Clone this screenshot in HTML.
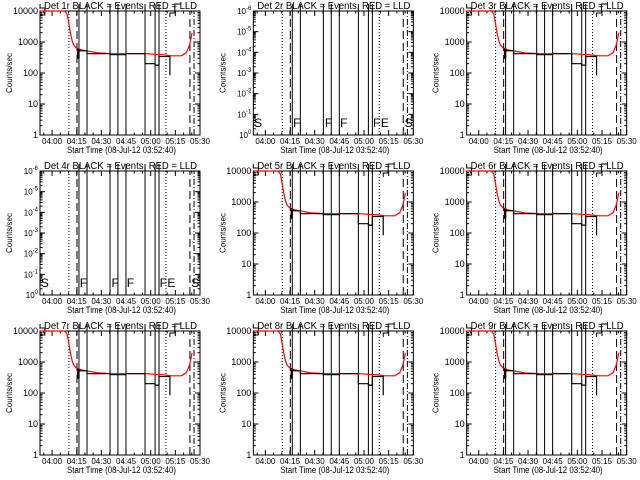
<!DOCTYPE html>
<html><head><meta charset="utf-8"><style>
html,body{margin:0;padding:0;background:#fff;width:640px;height:480px;overflow:hidden}
svg{display:block}
text{font-family:"Liberation Sans",sans-serif;fill:#000}
</style></head><body>
<svg id="c" width="640" height="480" viewBox="0 0 640 480"></svg>
<script>
// ---- data ----
const panelTitles = ["Det 1r BLACK = Events, RED = LLD","Det 2r BLACK = Events, RED = LLD","Det 3r BLACK = Events, RED = LLD",
 "Det 4r BLACK = Events, RED = LLD","Det 5r BLACK = Events, RED = LLD","Det 6r BLACK = Events, RED = LLD",
 "Det 7r BLACK = Events, RED = LLD","Det 8r BLACK = Events, RED = LLD","Det 9r BLACK = Events, RED = LLD"];
const hasData = [true,false,true,false,true,true,true,true,true];
const xTickLabels = ["04:00","04:15","04:30","04:45","05:00","05:15","05:30"];
const xTickMinutes = [7.33,22.33,37.33,52.33,67.33,82.33,97.33];
const yTickLabels = ["1","10","100","1000","10000"];
const yTickValues = [1,10,100,1000,10000];
const redTimes  = [0,15,16.5,17.5,18.5,19.5,20.5,22,25,30,35,45,55,65,70,75,80,86,89,91,92.5];
const redValues = [10000,10000,8000,4000,2000,1100,800,650,560,500,450,420,420,420,400,390,360,360,450,800,2000];
const blackTimes  = [22.5,23,23.7,24.2,28.6,42.6,52.3,63.9,70,72.4,79];
const blackValues = [600,300,550,520,420,390,420,200,180,340,340];
const solidLines = [23.7,28.6,42.6,47.4,52.3,63.9,70,72.4];
const dottedLines = [17.6,76.6];
const dashedLines = [22.5,91.2];
const dashDotLines = [93.7];
const markerLetters = ["S","F","F","F","F","E","S"];
const markerTimes = [0.5,24.2,43.5,52.8,72.8,77.5,92];

const svg = document.getElementById('c');
const NS = 'http://www.w3.org/2000/svg';
function mk(tag, attrs, parent){const e=document.createElementNS(NS,tag);for(const k in attrs)e.setAttribute(k,attrs[k]);parent.appendChild(e);return e;}
const L=40,R=200,T=11,B=135,XMAX=97.33;
const xs = t => L + t/XMAX*(R-L);

for(let p=0;p<9;p++){
  const col=p%3,row=Math.floor(p/3);
  const g=mk('g',{transform:`translate(${(col*213.33).toFixed(2)},${row*160})`},svg);
  
  
  const lo = hasData[p]?0:-6, hi = hasData[p]?4:0;
  const ys = v => B - (Math.log10(v)-lo)/(hi-lo)*(B-T);
  const fr=mk('rect',{x:L,y:T,width:R-L,height:B-T,fill:'none',stroke:'#000','stroke-width':1},g);
  
  
  const tt=mk('text',{x:44,y:9,'font-size':10,textLength:153,lengthAdjust:'spacingAndGlyphs'},g);tt.textContent=panelTitles[p];
  
  
  const yl=mk('text',{x:0,y:0,'font-size':8,'text-anchor':'middle',transform:'translate(12,73) rotate(-90)'},g);yl.textContent='Counts/sec';
  
  
  const xl=mk('text',{x:67,y:153,'font-size':9,textLength:109,lengthAdjust:'spacingAndGlyphs'},g);xl.textContent='Start Time (08-Jul-12 03:52:40)';
  
  
  xTickMinutes.forEach((m,i)=>{
    const x=xs(m);
    mk('line',{x1:x,y1:B,x2:x,y2:B-5,stroke:'#000'},g);mk('line',{x1:x,y1:T,x2:x,y2:T+5,stroke:'#000'},g);
    const t=mk('text',{x:x,y:144,'font-size':8,'text-anchor':'middle'},g);t.textContent=xTickLabels[i];
    
    
    for(let k=1;k<3;k++){const xm=xs(m-k*5);if(xm>L){mk('line',{x1:xm,y1:B,x2:xm,y2:B-2.5,stroke:'#000'},g);mk('line',{x1:xm,y1:T,x2:xm,y2:T+2.5,stroke:'#000'},g);}}
  });
  for(let d=lo;d<=hi;d++){
    const y=ys(Math.pow(10,d));
    mk('line',{x1:L,y1:y,x2:L+5,y2:y,stroke:'#000'},g);mk('line',{x1:R,y1:y,x2:R-5,y2:y,stroke:'#000'},g);
    if(hasData[p]){
      const t=mk('text',{x:L-2,y:y+3,'font-size':9,'text-anchor':'end'},g);t.textContent=yTickLabels[d];
      
      
    } else {
      const t=mk('text',{x:L-2,y:y+3,'font-size':8,'text-anchor':'end'},g);
      
      
      const e=lo-d;
      const a=document.createElementNS(NS,'tspan');a.textContent='10';t.appendChild(a);
      const b=document.createElementNS(NS,'tspan');b.setAttribute('dy','-4');b.setAttribute('font-size','6');b.textContent=e===0?'0':String(e);t.appendChild(b);
    }
    if(d<hi)for(let k=2;k<10;k++){const ym=ys(k*Math.pow(10,d));mk('line',{x1:L,y1:ym,x2:L+2.5,y2:ym,stroke:'#000'},g);mk('line',{x1:R,y1:ym,x2:R-2.5,y2:ym,stroke:'#000'},g);}
  }
  solidLines.forEach(m=>{const l=mk('line',{x1:xs(m),y1:B,x2:xs(m),y2:4,stroke:'#000'},g);});
  dottedLines.forEach(m=>{const l=mk('line',{x1:xs(m),y1:B,x2:xs(m),y2:T,stroke:'#000','stroke-dasharray':'1 2'},g);});
  dashedLines.forEach(m=>{const l=mk('line',{x1:xs(m),y1:B,x2:xs(m),y2:T,stroke:'#000','stroke-dasharray':'8 4'},g);});
  dashDotLines.forEach(m=>{const l=mk('line',{x1:xs(m),y1:B,x2:xs(m),y2:T,stroke:'#000','stroke-dasharray':'6 2 1 2'},g);});
  if(hasData[p]){
    mk('path',{d:`M${xs(0)} 4 V8 H${xs(3)} V${T+4} H${xs(0)}`,fill:'none',stroke:'#000'},g);
    mk('path',{d:`M${xs(79)} ${T+6} V${T+2} H${xs(82)} V4 H${xs(86)}`,fill:'none',stroke:'#000'},g);
    const rp=redTimes.map((t,i)=>(i?'L':'M')+xs(t).toFixed(1)+' '+ys(redValues[i]).toFixed(1)).join(' ');
    const r=mk('path',{d:rp,fill:'none',stroke:'#f00','stroke-width':1.2},g);
    
    
    let bp='';
    blackTimes.forEach((t,i)=>{const y=ys(blackValues[i]).toFixed(1);bp+=(i?'V'+y+' H'+xs(blackTimes[i+1]??t).toFixed(1):'M'+xs(t).toFixed(1)+' '+y+' H'+xs(blackTimes[1]).toFixed(1));});
    bp+=' V'+ys(85).toFixed(1);
    const b=mk('path',{d:bp,fill:'none',stroke:'#000','stroke-width':1.2},g);
    
    
  } else {
    markerLetters.forEach((s,i)=>{const t=mk('text',{x:xs(markerTimes[i]),y:B-8,'font-size':12},g);t.textContent=s;
      
      });
  }
}
</script>
</body></html>
